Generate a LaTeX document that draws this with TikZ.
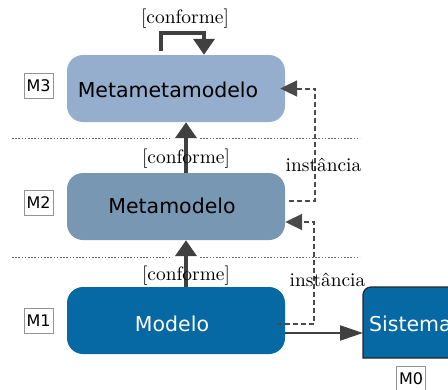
\documentclass[tikz,border=0pt]{standalone}
\usepackage{fontspec}
\usetikzlibrary{arrows.meta,calc}
\newfontfamily\dvs{DejaVu Sans}
\newfontfamily\lmten{lmroman10-regular}[Extension=.otf]
\definecolor{mmmfill}{HTML}{95AECE}
\definecolor{mmfill}{HTML}{7797B3}
\definecolor{mfill}{HTML}{0669A4}
\definecolor{arrowgray}{HTML}{404040}
\definecolor{dashgray}{HTML}{4A4A4A}
\definecolor{sepgray}{HTML}{666666}
\tikzset{
  layerbox/.style={rounded corners=16pt, minimum width=218pt, minimum height=67pt, inner sep=0pt},
  boxtext/.style={font=\dvs\fontsize{20.5}{24}\selectfont},
  lvl/.style={draw=gray!85, line width=0.8pt, inner sep=0pt, minimum width=29pt,
    minimum height=25pt, font=\dvs\fontsize{16}{19}\selectfont},
  serifnote/.style={font=\lmten\fontsize{19.4}{23}\selectfont, inner sep=0pt},
  conf/.style={draw=arrowgray, line width=4.5pt, -{Triangle[length=16pt,width=21pt]}},
  inst/.style={draw=dashgray, line width=2pt, dash pattern=on 5pt off 3pt,
    -{Triangle[length=17pt,width=16pt]}},
  realiza/.style={draw=arrowgray, line width=2.2pt, -{Triangle[length=23pt,width=15pt]}},
  sep/.style={draw=sepgray, line width=0.9pt, dash pattern=on 1.6pt off 1.6pt},
}
\begin{document}
\begin{tikzpicture}[x=1pt,y=-1pt]
\useasboundingbox (0,0) rectangle (448,389);
\clip (0,0) rectangle (448,389);

% layer separators
\draw[sep] (12,138) -- (172,138) (200,138) -- (360,138);
\draw[sep] (12,257) -- (172,257) (200,257) -- (360,257);

% the three modelling layers
\node[layerbox, fill=mmmfill, label={[boxtext, xshift=-8pt, yshift=-1pt]center:Metametamodelo}] (mmm) at (176,88.5) {};
\node[layerbox, fill=mmfill, label={[boxtext, xshift=-4pt, yshift=1pt]center:Metamodelo}] (mm) at (176,206.5) {};
\node[layerbox, fill=mfill, label={[boxtext, text=white, xshift=-4pt, yshift=-3pt]center:Modelo}] (m) at (176,320.5) {};

% the system, running off the right edge
\draw[fill=mfill, draw=black!85, line width=1.2pt]
  (470,358) -- (363,358) -- (363,295) arc[start angle=180, end angle=90, radius=8pt]
  -- (470,287);
\node[boxtext, text=white, anchor=west, inner xsep=6pt, inner ysep=0pt] (sist) at (363,324) {Sistema};

% level tags
\node[lvl] (m3) at (38.5,85.5) {M3};
\node[lvl] (m2) at (38.5,203) {M2};
\node[lvl] (m1) at (38.5,320.5) {M1};
\node[lvl] (m0) at (411,379) {M0};

% conformance arrows
\draw[conf] ([xshift=-15pt,yshift=4pt]mmm.north) -- ++(0,-18) -| ([xshift=28pt]mmm.north);
\draw[conf] ([xshift=10pt]mm.north) -- ([xshift=10pt]mmm.south);
\draw[conf] ([xshift=10pt]m.north) -- ([xshift=10pt]mm.south);
\node[serifnote] (c3) at (185,19) {[conforme]};
\node[serifnote] (c2) at (186,158.5) {[conforme]};
\node[serifnote] (c1) at (186,275.5) {[conforme]};

% instance-of arrows
\draw[inst] ([xshift=4pt,yshift=5.5pt]mm.east) -| ([xshift=30pt]mmm.east) -- ([xshift=-5pt]mmm.east);
\draw[inst] ([xshift=-8pt,yshift=-3.5pt]m.east) -| ([xshift=29pt,yshift=-15.5pt]mm.east) -- ([yshift=-15.5pt]mm.east);
\node[serifnote] (i2) at (323.5,165) {instância};
\node[serifnote] (i1) at (327.5,279.5) {instância};

% model to system
\coordinate (ms) at ([yshift=-12.5pt]m.east);
\draw[realiza] (ms) -- (ms -| sist.west);
\end{tikzpicture}
\end{document}
